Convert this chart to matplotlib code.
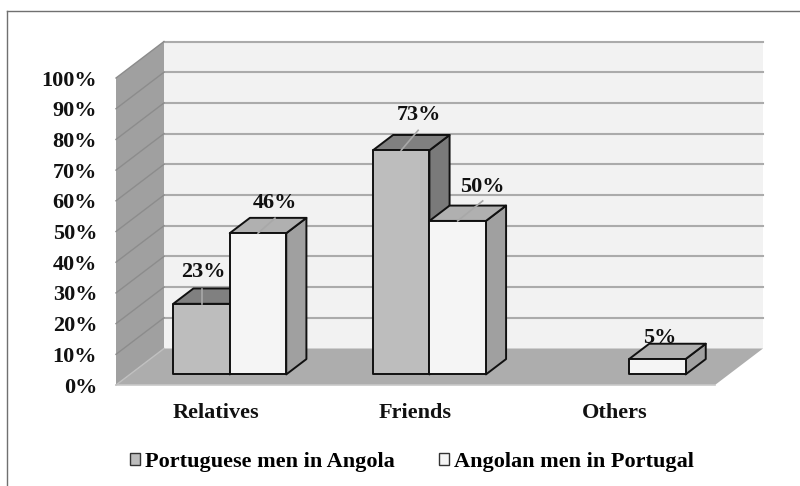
"""
3D style clustered bars of Portuguese / Angolan men by category.
"""
import matplotlib
matplotlib.use('Agg')
import matplotlib.pyplot as plt
from matplotlib.patches import Polygon, Patch

plt.rcParams['font.family'] = ['Liberation Serif', 'DejaVu Serif']
plt.rcParams['font.weight'] = 'bold'

categories = ['Relatives', 'Friends', 'Others']
portuguese = [23, 73, 0]
angolan = [46, 50, 5]
yticks = list(range(0, 101, 10))
series_names = ['Portuguese men in Angola', 'Angolan men in Portugal']

# label offsets in pixels from top-centre of the bar front, then leader line end
port_label = [(2, 32), (18, 35), None]
ang_label = [(17, 30), (25, 34), (2, 21)]
port_leader = [(0, 15), (17, 20), None]
ang_leader = [(17, 15), (25, 20), None]

W, H = 800, 486
FS = 16

fig = plt.figure(figsize=(W / 100, H / 100), dpi=100, facecolor='white')
# axes box = front plane of the chart
L, R, T, B = 116, 715, 78, 385
ax = fig.add_axes([L / W, 1 - B / H, (R - L) / W, (B - T) / H])
ax.set_xlim(0, 3)
ax.set_ylim(0, 100)
for s in ax.spines.values():
    s.set_visible(False)
ax.patch.set_alpha(0)

px_x = 3 / (R - L)
px_y = 100 / (B - T)
DX = 48 * px_x
DY = 36.5 * px_y


def proj(x, y, d=0.0):
    return (x + d * DX, y + d * DY)


def poly(pts, color, ec='none', lw=0, z=1):
    ax.add_patch(Polygon(pts, closed=True, fc=color, ec=ec, lw=lw, zorder=z,
                         clip_on=False, joinstyle='round'))


# walls and floor
poly([proj(0, 0, 1), proj(3, 0, 1), proj(3, 100, 1), proj(0, 100, 1)], '#f2f2f2')
poly([proj(0, 0), proj(0, 100), proj(0, 100, 1), proj(0, 0, 1)], '#a0a0a0', z=1.1)
poly([proj(0, 0), proj(3, 0), proj(3, 0, 1), proj(0, 0, 1)], '#adadad', z=1.2)

for t in yticks[1:]:
    ax.plot([proj(0, t, 1)[0], proj(3, t, 1)[0]], [proj(0, t, 1)[1]] * 2,
            color='#ababab', lw=1.5, zorder=1.05, clip_on=False)
    ax.plot([proj(0, t)[0], proj(0, t, 1)[0]], [proj(0, t)[1], proj(0, t, 1)[1]],
            color='#8c8c8c', lw=1.0, zorder=1.15, clip_on=False)
# outline of the floor and side wall, soft grey
ax.plot([proj(0, 0)[0], proj(3, 0)[0]], [0, 0], color='#c8c8c8', lw=1.2,
        zorder=1.3, clip_on=False)
ax.plot([proj(0, 0)[0], proj(0, 0, 1)[0]], [0, proj(0, 0, 1)[1]], color='#c0c0c0',
        lw=1.0, zorder=1.3, clip_on=False)

BAR_W = 56.5 * px_x
D0, D1 = 0.29, 0.71


def bar3d(x, v, front, top, side, z):
    a = proj(x, 0, D0)
    b = proj(x + BAR_W, 0, D0)
    kw = dict(ec='#111111', lw=1.4, z=z)
    poly([b, proj(x + BAR_W, 0, D1), proj(x + BAR_W, v, D1), proj(x + BAR_W, v, D0)], side, **kw)
    poly([proj(x, v, D0), proj(x + BAR_W, v, D0), proj(x + BAR_W, v, D1), proj(x, v, D1)], top, **kw)
    poly([a, b, proj(x + BAR_W, v, D0), proj(x, v, D0)], front, **kw)
    return proj(x + BAR_W / 2, v, D0)


def label(anchor, value, off, leader):
    if leader is not None:
        ax.plot([anchor[0], anchor[0] + leader[0] * px_x],
                [anchor[1], anchor[1] + leader[1] * px_y],
                color='#a8a8a8', lw=1.2, zorder=8, clip_on=False)
    ax.text(anchor[0] + off[0] * px_x, anchor[1] + off[1] * px_y, f'{value}%',
            ha='center', va='center', fontsize=FS, color='#111111', zorder=9)


for i in range(len(categories)):
    c = i + 0.5
    if portuguese[i] > 0:
        a = bar3d(c - BAR_W, portuguese[i], '#bdbdbd', '#808080', '#7a7a7a', 3 + i)
        label(a, portuguese[i], port_label[i], port_leader[i])
    a = bar3d(c, angolan[i], '#f5f5f5', '#b0b0b0', '#a0a0a0', 3.5 + i)
    label(a, angolan[i], ang_label[i], ang_leader[i])

ax.set_xticks([i + 0.5 for i in range(len(categories))])
ax.set_xticklabels(categories, fontsize=FS, color='#111111')
ax.set_yticks(yticks)
ax.set_yticklabels([f'{t}%' for t in yticks], fontsize=FS, color='#111111')
ax.tick_params(axis='both', length=0)
ax.tick_params(axis='x', pad=13)
ax.tick_params(axis='y', pad=13.5)

handles = [Patch(fc='#bdbdbd', ec='#333333', lw=1), Patch(fc='#f5f5f5', ec='#333333', lw=1)]
fig.legend(handles, series_names, loc='center', bbox_to_anchor=(412 / W, 1 - 462 / H),
           ncol=2, frameon=False, fontsize=FS, handlelength=0.46, handleheight=0.5,
           handletextpad=0.23, columnspacing=2.0, borderpad=0)

# outer frame of the original picture (top and left only)
fig.add_artist(plt.Line2D([7 / W, 1], [1 - 11 / H] * 2, color='#707070', lw=1.0))
fig.add_artist(plt.Line2D([7 / W, 7 / W], [0, 1 - 11 / H], color='#707070', lw=1.0))

fig.savefig('out.png', dpi=100, facecolor='white')
